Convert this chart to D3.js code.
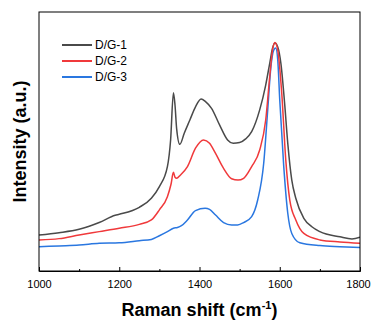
<!DOCTYPE html>
<html>
<head>
<meta charset="utf-8">
<script src="https://cdn.jsdelivr.net/npm/d3@7"></script>
<style>
  html, body { margin: 0; padding: 0; background: #fff; }
  svg { display: block; }
</style>
</head>
<body>
<svg id="chart" width="371" height="321"></svg>
<script>
// ---- Data ----
const seriesNames = ["D/G-1", "D/G-2", "D/G-3"];
const seriesColors = ["#4a4a4a", "#f0393b", "#2a77e0"];

const shiftDG1 = [1000,1050,1100,1150,1190,1200,1250,1280,1300,1320,1328,1335,1339,1343,1351,1362,1376,1390,1404,1415,1430,1450,1470,1484,1500,1515,1530,1550,1565,1575,1582,1588,1595,1603,1612,1620,1630,1640,1660,1680,1700,1750,1780,1800];
const intDG1   = [13.9,14.8,16.1,18.7,21.5,21.9,24.6,28.1,32.6,40.3,50.6,68.8,64.0,55.0,48.9,53.2,58.3,63.4,66.4,65.4,62.8,56.4,50.6,49.3,49.6,51.0,53.8,62.2,71.8,80.2,86.0,88.0,86.5,80.0,65.0,49.3,35.1,28.1,20.3,17.1,15.2,13.2,12.4,13.0];

const shiftDG2 = [1000,1050,1100,1150,1200,1250,1280,1300,1320,1329,1335,1339,1343,1352,1370,1390,1410,1425,1440,1460,1480,1496,1510,1530,1550,1565,1575,1582,1588,1595,1605,1615,1625,1640,1660,1700,1750,1800];
const intDG2   = [12.0,12.5,13.9,15.2,16.5,18.0,19.7,23.6,28.7,33.5,38.1,36.2,35.8,37.0,40.3,47.4,50.6,49.3,45.4,39.6,35.6,35.1,35.8,40.3,46.7,58.3,75.0,85.3,88.2,85.3,68.6,42.9,27.4,19.7,14.5,12.0,11.2,10.7];

const shiftDG3 = [1000,1050,1100,1150,1200,1250,1280,1300,1320,1335,1345,1355,1370,1390,1414,1425,1440,1460,1480,1495,1510,1530,1545,1560,1570,1578,1585,1590,1595,1600,1610,1620,1630,1650,1700,1750,1800];
const intDG3   = [9.4,9.7,10.0,10.7,10.9,11.7,12.2,13.6,15.2,16.5,16.8,17.5,19.7,23.3,24.2,23.8,21.6,18.7,17.8,17.8,18.7,21.0,27.4,41.6,62.2,78.9,85.3,86.1,81.5,66.0,40.3,22.3,14.5,10.9,9.8,9.4,9.1];

const xTickValues = [1000, 1200, 1400, 1600, 1800];
const xMinorTickValues = [1100, 1300, 1500, 1700];

const series = [
  { name: seriesNames[0], color: seriesColors[0], xs: shiftDG1, ys: intDG1 },
  { name: seriesNames[1], color: seriesColors[1], xs: shiftDG2, ys: intDG2 },
  { name: seriesNames[2], color: seriesColors[2], xs: shiftDG3, ys: intDG3 }
];

// ---- Layout ----
const svg = d3.select("#chart");
const margin = { left: 39, right: 11, top: 12, bottom: 50 };
const W = 371, H = 321;
const x0 = margin.left, x1 = W - margin.right;
const y0 = H - margin.bottom, y1 = margin.top;

const x = d3.scaleLinear().domain([1000, 1800]).range([x0, x1]);
const y = d3.scaleLinear().domain([0, 100]).range([y0, y1]);

const font = "'Liberation Sans', Arial, Helvetica, sans-serif";

svg.append("defs").append("clipPath").attr("id", "clip")
  .append("rect").attr("x", x0).attr("y", y1).attr("width", x1 - x0).attr("height", y0 - y1);

const line = d3.line()
  .x(d => x(d[0]))
  .y(d => y(d[1]))
  .curve(d3.curveMonotoneX);

const g = svg.append("g").attr("clip-path", "url(#clip)");
[series[0], series[2], series[1]].forEach(s => {
  g.append("path")
    .datum(s.xs.map((v, i) => [v, s.ys[i]]))
    .attr("fill", "none")
    .attr("stroke", s.color)
    .attr("stroke-width", 1.5)
    .attr("stroke-linejoin", "round")
    .attr("d", line);
});

// frame
svg.append("rect")
  .attr("x", x0).attr("y", y1)
  .attr("width", x1 - x0).attr("height", y0 - y1)
  .attr("fill", "none").attr("stroke", "#000").attr("stroke-width", 1);

// x axis (ticks inward)
const xAxis = d3.axisBottom(x)
  .tickValues(xTickValues)
  .tickSize(-4)
  .tickPadding(9)
  .tickFormat(d3.format("d"));
const ax = svg.append("g").attr("transform", `translate(0,${y0})`).call(xAxis);
ax.select(".domain").attr("stroke", "#000");
ax.selectAll(".tick line").attr("stroke", "#000");
ax.selectAll("text").attr("font-family", font).attr("font-size", 11).attr("fill", "#000");
// keep last label inside the window
ax.selectAll(".tick").filter(d => d === 1800).select("text").attr("dx", -2);

const xMinor = d3.axisBottom(x).tickValues(xMinorTickValues).tickSize(-2).tickFormat("");
const axm = svg.append("g").attr("transform", `translate(0,${y0})`).call(xMinor);
axm.select(".domain").remove();
axm.selectAll(".tick line").attr("stroke", "#000");

// axis titles
const xt = svg.append("text")
  .attr("x", (x0 + x1) / 2).attr("y", 316)
  .attr("text-anchor", "middle")
  .attr("font-family", font).attr("font-weight", "bold").attr("font-size", 18)
  .attr("fill", "#000");
xt.append("tspan").text("Raman shift (cm");
xt.append("tspan").attr("dy", -7).attr("font-size", 11).text("-1");
xt.append("tspan").attr("dy", 7).text(")");

svg.append("text")
  .attr("transform", `translate(26,${(y0 + y1) / 2}) rotate(-90)`)
  .attr("text-anchor", "middle")
  .attr("font-family", font).attr("font-weight", "bold").attr("font-size", 18)
  .attr("fill", "#000")
  .text("Intensity (a.u.)");

// legend
const legend = svg.append("g");
series.forEach((s, i) => {
  const ly = 45 + i * 16;
  legend.append("line")
    .attr("x1", 62).attr("x2", 92).attr("y1", ly).attr("y2", ly)
    .attr("stroke", s.color).attr("stroke-width", 2);
  legend.append("text")
    .attr("x", 95).attr("y", ly + 4)
    .attr("font-family", font).attr("font-size", 12).attr("fill", "#000")
    .text(s.name);
});
</script>
</body>
</html>
